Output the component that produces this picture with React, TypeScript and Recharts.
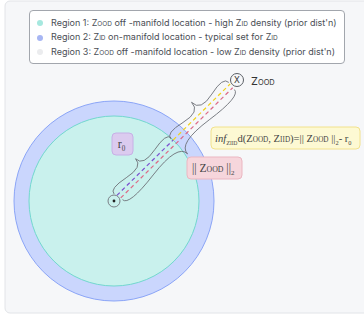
import React from 'react';
import { ComposedChart, XAxis, YAxis, Scatter, Legend } from 'recharts';

const CHART_W = 364;
const CHART_H = 318;

// ---- geometry of the diagram (chart units, 1 unit = 1 px) ----
const originPoint = [114, 201];
const oodPoint = [237, 80];
const regionRadii = [85, 100]; // region 1 (inner disk), region 2 (outer ring)

// dashed segments along the origin -> Z_OOD ray: [from t, to t, side offset]
const rayFrom = [6, 85, 7];
const rayTo = [85, 165, 164];
const rayOffset = [2, 2, -2.5];
const rayColors = ['#7b4fd0', '#f1d21a', '#dc6a86'];

// braces along the ray: [from t, to t, side offset, depth]
const braceFrom = [5, 84, 7];
const braceTo = [85, 165, 164];
const braceOffset = [5, 4, -5];
const braceDepth = [10, 12, -13];

// legend
type Seg = { t: string; sc?: boolean; sub?: boolean; it?: boolean };
const legendRows: Seg[][] = [
  [{ t: 'Region 1: Z' }, { t: 'OOD', sc: true }, { t: ' off -manifold location - high Z' }, { t: 'ID', sc: true }, { t: " density (prior dist'n)" }],
  [{ t: 'Region 2: Z' }, { t: 'ID', sc: true }, { t: ' on-manifold location - typical set for Z' }, { t: 'ID', sc: true }],
  [{ t: 'Region 3: Z' }, { t: 'OOD', sc: true }, { t: ' off -manifold location - low Z' }, { t: 'ID', sc: true }, { t: " density (prior dist'n)" }],
];
const legendColors = ['#a6e8df', '#a7b6f3', '#ebecee'];

// annotation labels
const oodLabel: Seg[] = [{ t: 'Z' }, { t: 'OOD', sc: true }];
const r0Label: Seg[] = [{ t: 'r' }, { t: '0', sub: true }];
const normLabel: Seg[] = [{ t: '|| Z' }, { t: 'OOD', sc: true }, { t: ' ||' }, { t: '2', sub: true }];
const infLabel: Seg[] = [
  { t: 'inf', it: true }, { t: 'Z', sub: true }, { t: 'IID', sub: true, sc: true },
  { t: 'd(Z' }, { t: 'OOD', sc: true }, { t: ', Z' }, { t: 'IID', sc: true }, { t: ')=' },
  { t: '|| Z' }, { t: 'OOD', sc: true }, { t: ' ||' }, { t: '2', sub: true }, { t: '- r' }, { t: '0', sub: true },
];

// label boxes [x1, y1, x2, y2]
const panelBox = [5, 1, 372, 313];
const r0Box = [112, 133, 133, 155];
const normBox = [187, 157, 242, 179];
const infBox = [211, 127, 360, 149];

// ---- helpers ----
const dxRay = oodPoint[0] - originPoint[0];
const dyRay = oodPoint[1] - originPoint[1];
const lenRay = Math.hypot(dxRay, dyRay);
const ux = dxRay / lenRay;
const uy = dyRay / lenRay;
const nx = uy;
const ny = -ux;
const along = (t: number, off: number) => ({
  x: originPoint[0] + t * ux + off * nx,
  y: originPoint[1] + t * uy + off * ny,
});

function bracePath(x1: number, y1: number, x2: number, y2: number, w: number, q = 0.6) {
  let dx = x1 - x2;
  let dy = y1 - y2;
  const len = Math.hypot(dx, dy);
  dx /= len;
  dy /= len;
  const qx1 = x1 + q * w * dy, qy1 = y1 - q * w * dx;
  const qx2 = x1 - 0.25 * len * dx + (1 - q) * w * dy, qy2 = y1 - 0.25 * len * dy - (1 - q) * w * dx;
  const tx1 = x1 - 0.5 * len * dx + w * dy, ty1 = y1 - 0.5 * len * dy - w * dx;
  const qx3 = x2 + q * w * dy, qy3 = y2 - q * w * dx;
  const qx4 = x1 - 0.75 * len * dx + (1 - q) * w * dy, qy4 = y1 - 0.75 * len * dy - (1 - q) * w * dx;
  return `M${x1},${y1}Q${qx1},${qy1} ${qx2},${qy2}T${tx1},${ty1}M${x2},${y2}Q${qx3},${qy3} ${qx4},${qy4}T${tx1},${ty1}`;
}

function RichText({ segs, x, y, size, family, fill, anchor = 'start' }: any) {
  let shift = 0;
  const out: any[] = [];
  segs.forEach((s: Seg, i: number) => {
    const target = s.sub ? 3 : 0;
    const dy = target - shift;
    shift = target;
    let fs = size;
    if (s.sub && s.sc) fs = size * 0.5;
    else if (s.sub) fs = size * 0.6;
    else if (s.sc) fs = size * 0.68;
    out.push(
      <tspan key={i} dy={dy} fontSize={fs} fontStyle={s.it ? 'italic' : 'normal'}>
        {s.t}
      </tspan>
    );
  });
  return (
    <text x={x} y={y} fontFamily={family} fill={fill} textAnchor={anchor} style={{ whiteSpace: 'pre' }}>
      {out}
    </text>
  );
}

const noShape = () => <g />;

function geom(key: string, data: { x: number; y: number }[], render: (pts: { x: number; y: number }[]) => any) {
  return (
    <Scatter
      key={key}
      data={data}
      dataKey="y"
      isAnimationActive={false}
      legendType="none"
      shape={noShape}
      line={(p: any) => render(p.points)}
    />
  );
}

const boxPts = (b: number[]) => [{ x: b[0], y: b[1] }, { x: b[2], y: b[3] }];

const SERIF = '"Liberation Serif", "DejaVu Serif", serif';
const SANS = 'Inter, "Noto Sans", sans-serif';

function LegendBox() {
  return (
    <div
      style={{
        boxSizing: 'border-box',
        width: 316,
        height: 54,
        border: '1px solid #a2a6ad',
        borderRadius: 4,
        background: '#ffffff',
        padding: '5px 0 0 7px',
        fontFamily: SANS,
        fontSize: 9,
        color: '#4a4e55',
        lineHeight: '14.5px',
        textAlign: 'left',
      }}
    >
      {legendRows.map((row, i) => (
        <div key={i} style={{ display: 'flex', alignItems: 'center', height: 14.5, whiteSpace: 'pre' }}>
          <span
            style={{
              display: 'inline-block',
              width: 6,
              height: 6,
              borderRadius: '50%',
              background: legendColors[i],
              marginRight: 8,
              flex: 'none',
            }}
          />
          <span>
            {row.map((s, j) => (
              <span key={j} style={{ fontSize: s.sc ? 6.5 : 9 }}>
                {s.t}
              </span>
            ))}
          </span>
        </div>
      ))}
    </div>
  );
}

export default function App() {
  const center = { x: originPoint[0], y: originPoint[1] };
  return (
    <div style={{ position: 'absolute', left: 0, top: 0, width: CHART_W, height: CHART_H }}>
      <ComposedChart width={CHART_W} height={CHART_H} margin={{ top: 0, right: 0, bottom: 0, left: 0 }}>
        <XAxis type="number" dataKey="x" domain={[0, CHART_W]} allowDataOverflow hide />
        <YAxis type="number" dataKey="y" domain={[0, CHART_H]} allowDataOverflow reversed hide />
        <Legend
          verticalAlign="middle"
          align="center"
          layout="horizontal"
          width={316}
          wrapperStyle={{ top: 10, left: 29, width: 316, height: 54 }}
          content={() => <LegendBox />}
        />

        {geom('panel', boxPts(panelBox), (p) => (
          <rect x={p[0].x} y={p[0].y} width={p[1].x - p[0].x} height={p[1].y - p[0].y} rx={5} fill="#f6f7f9" stroke="#e2e4e8" />
        ))}

        {geom('region2', [center, { x: originPoint[0] + regionRadii[1], y: originPoint[1] }], (p) => (
          <circle cx={p[0].x} cy={p[0].y} r={Math.hypot(p[1].x - p[0].x, p[1].y - p[0].y)} fill="#cad6fd" stroke="#8ba5f7" strokeWidth={1} />
        ))}
        {geom('region1', [center, { x: originPoint[0] + regionRadii[0], y: originPoint[1] }], (p) => (
          <circle cx={p[0].x} cy={p[0].y} r={Math.hypot(p[1].x - p[0].x, p[1].y - p[0].y)} fill="#c9f1ed" stroke="#72d8ce" strokeWidth={1} />
        ))}

        {rayFrom.map((f, i) =>
          geom(`ray${i}`, [along(f, rayOffset[i]), along(rayTo[i], rayOffset[i])], (p) => (
            <line x1={p[0].x} y1={p[0].y} x2={p[1].x} y2={p[1].y} stroke={rayColors[i]} strokeWidth={1.2} strokeDasharray="4 3" />
          ))
        )}

        {braceFrom.map((f, i) =>
          geom(`brace${i}`, [along(f, braceOffset[i]), along(braceTo[i], braceOffset[i])], (p) => (
            <path d={bracePath(p[0].x, p[0].y, p[1].x, p[1].y, -braceDepth[i], 0.7)} fill="none" stroke="#6d7177" strokeWidth={0.9} />
          ))
        )}

        {geom('originMark', [center], (p) => (
          <g>
            <circle cx={p[0].x} cy={p[0].y} r={6} fill="none" stroke="#7a7f86" strokeWidth={1} />
            <circle cx={p[0].x} cy={p[0].y} r={1.4} fill="#222" />
          </g>
        ))}

        {geom('oodMark', [{ x: oodPoint[0], y: oodPoint[1] }], (p) => (
          <g>
            <circle cx={p[0].x} cy={p[0].y} r={6.5} fill="#f6f7f9" stroke="#5b5f66" strokeWidth={1} />
            <text x={p[0].x} y={p[0].y + 3} textAnchor="middle" fontFamily={SANS} fontSize={8.5} fill="#333">X</text>
            <RichText segs={oodLabel} x={p[0].x + 14} y={p[0].y + 4.5} size={11} family={SANS} fill="#333" />
          </g>
        ))}

        {geom('r0Box', boxPts(r0Box), (p) => (
          <g>
            <rect x={p[0].x} y={p[0].y} width={p[1].x - p[0].x} height={p[1].y - p[0].y} rx={4} fill="#dbcbef" stroke="#c7b0e6" />
            <RichText segs={r0Label} x={(p[0].x + p[1].x) / 2 - 1} y={p[0].y + 15} size={12} family={SERIF} fill="#444" anchor="middle" />
          </g>
        ))}

        {geom('normBox', boxPts(normBox), (p) => (
          <g>
            <rect x={p[0].x} y={p[0].y} width={p[1].x - p[0].x} height={p[1].y - p[0].y} rx={4} fill="#f6d6dc" stroke="#ebb6c1" />
            <RichText segs={normLabel} x={p[0].x + 5} y={p[0].y + 15} size={11.5} family={SERIF} fill="#444" />
          </g>
        ))}

        {geom('infBox', boxPts(infBox), (p) => (
          <g>
            <rect x={p[0].x} y={p[0].y} width={p[1].x - p[0].x} height={p[1].y - p[0].y} rx={4} fill="#fdf9d3" stroke="#f2e28c" />
            <RichText segs={infLabel} x={p[0].x + 4} y={p[0].y + 14.5} size={10.6} family={SERIF} fill="#444" />
          </g>
        ))}
      </ComposedChart>
    </div>
  );
}
